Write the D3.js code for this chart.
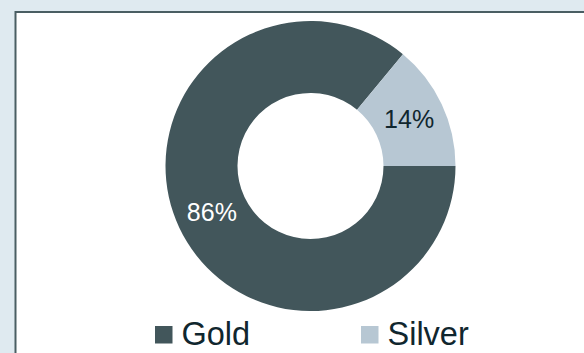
<!DOCTYPE html>
<html>
<head>
<meta charset="utf-8">
<script src="https://cdn.jsdelivr.net/npm/d3@7"></script>
<style>
  body { margin: 0; background: #dfeaf0; }
  svg { display: block; }
</style>
</head>
<body>
<svg id="chart" width="584" height="353"></svg>
<script>
// data
var categories = ["Gold", "Silver"];
var shares = [86, 14];
var colors = ["#42565b", "#b7c7d3"];
var labelColors = ["#ffffff", "#10262e"];

var svg = d3.select("#chart"),
    width = +svg.attr("width"),
    height = +svg.attr("height");

// white panel, runs off the right and bottom edge
svg.append("rect")
    .attr("x", 15.5)
    .attr("y", 12)
    .attr("width", 600)
    .attr("height", 400)
    .attr("fill", "#ffffff")
    .attr("stroke", "#4a5e63")
    .attr("stroke-width", 2);

var cx = 310.5, cy = 166,
    outerR = 145, innerR = 73;

var color = d3.scaleOrdinal().domain(categories).range(colors);
var textColor = d3.scaleOrdinal().domain(categories).range(labelColors);

var data = categories.map(function(c, i) { return {name: c, value: shares[i]}; });

var pie = d3.pie()
    .sort(null)
    .value(function(d) { return d.value; })
    .startAngle(Math.PI / 2)
    .endAngle(Math.PI / 2 + 2 * Math.PI);

var arc = d3.arc().innerRadius(innerR).outerRadius(outerR);

var g = svg.append("g").attr("transform", "translate(" + cx + "," + cy + ")");

var slices = g.selectAll(".slice")
    .data(pie(data))
    .enter().append("g")
    .attr("class", "slice");

slices.append("path")
    .attr("d", arc)
    .attr("fill", function(d) { return color(d.data.name); });

slices.append("text")
    .attr("transform", function(d) { return "translate(" + arc.centroid(d) + ")"; })
    .attr("dy", "0.35em")
    .attr("text-anchor", "middle")
    .attr("font-family", "'Liberation Sans', Arial, sans-serif")
    .attr("font-size", 25)
    .attr("fill", function(d) { return textColor(d.data.name); })
    .text(function(d) { return d.data.value + "%"; });

// legend
var legendX = d3.scaleOrdinal().domain(categories).range([155, 361]);

var legend = svg.append("g")
    .selectAll("g")
    .data(categories)
    .enter().append("g")
    .attr("transform", function(d) { return "translate(" + legendX(d) + ",326)"; });

legend.append("rect")
    .attr("width", 17.5)
    .attr("height", 17.5)
    .attr("fill", color);

legend.append("text")
    .attr("x", 26.5)
    .attr("y", 19)
    .attr("font-family", "'Liberation Sans', Arial, sans-serif")
    .attr("font-size", 32.5)
    .attr("fill", "#10262e")
    .text(function(d) { return d; });
</script>
</body>
</html>
